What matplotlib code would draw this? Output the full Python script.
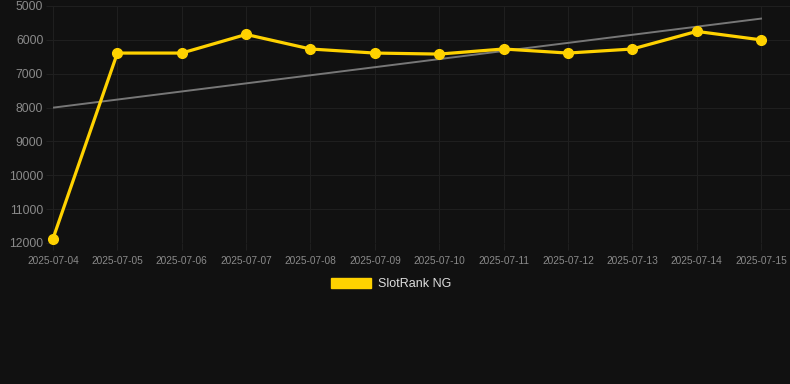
import numpy as np
import matplotlib.pyplot as plt
from matplotlib.patches import Patch

dates = ["2025-07-04", "2025-07-05", "2025-07-06", "2025-07-07", "2025-07-08", "2025-07-09",
         "2025-07-10", "2025-07-11", "2025-07-12", "2025-07-13", "2025-07-14", "2025-07-15"]
rank = [11870, 6390, 6390, 5840, 6270, 6390, 6420, 6270, 6390, 6270, 5750, 6000]
y_ticks = [5000, 6000, 7000, 8000, 9000, 10000, 11000, 12000]

plt.rcParams["font.family"] = ["Liberation Sans", "DejaVu Sans"]

bg = "#111111"
grid_col = "#1f1f1f"
yellow = "#ffd200"

fig = plt.figure(figsize=(7.9, 3.84), dpi=100, facecolor=bg)
ax = fig.add_axes([53 / 790, 1 - 243 / 384, 1 - 53 / 790, 237 / 384], facecolor=bg)

x = np.arange(len(dates))
ax.plot(x, rank, color=yellow, lw=2.3, marker="o", ms=7, zorder=3, clip_on=False)

# trend line (least squares)
k, b = np.polyfit(x, rank, 1)
ax.plot(x, k * x + b, color="#777777", lw=1.4, zorder=2)

ax.set_ylim(12000, 5000)
ax.set_xlim(0, 11.45)
ax.set_yticks(y_ticks)
ax.set_yticklabels([str(v) for v in y_ticks])
ax.set_xticks(x)
ax.set_xticklabels(dates)
ax.grid(True, color=grid_col, lw=0.8)
ax.set_axisbelow(True)
for s in ax.spines.values():
    s.set_visible(False)
ax.tick_params(axis="y", colors=grid_col, labelcolor="#8a8a8a", labelsize=8.7, length=5, width=0.8, pad=2)
ax.tick_params(axis="x", colors=grid_col, labelcolor="#8a8a8a", labelsize=7.3, length=5, width=0.8, pad=4)

fig.legend(handles=[Patch(facecolor=yellow, edgecolor=yellow, label="SlotRank NG")],
           loc="center", bbox_to_anchor=(391 / 790, 1 - 284 / 384), frameon=False,
           handlelength=3.2, handleheight=0.9, handletextpad=0.5,
           labelcolor="#dddddd", fontsize=9)

fig.savefig("out.png", dpi=100, facecolor=bg)
